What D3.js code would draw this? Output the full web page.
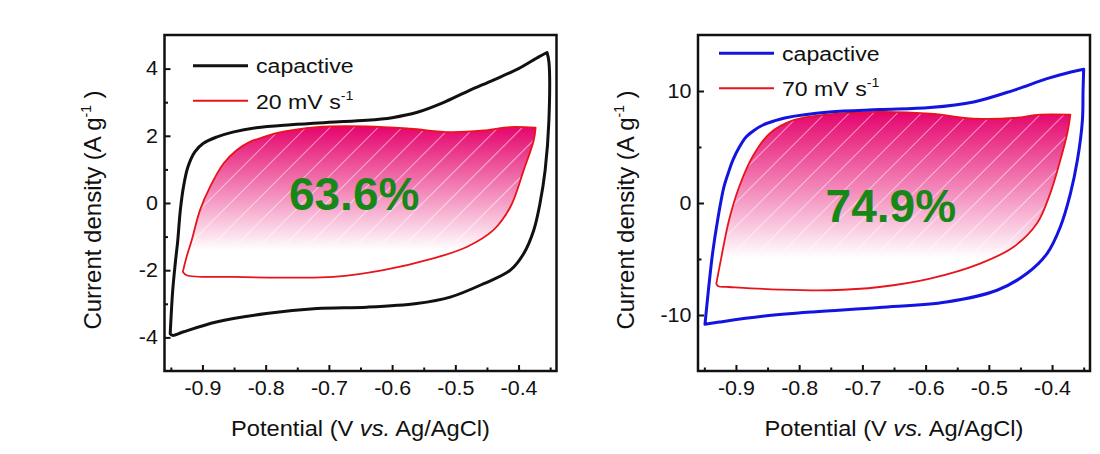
<!DOCTYPE html>
<html lang="en">
<head>
<meta charset="UTF-8">
<title>CV capacitive contribution</title>
<script src="https://d3js.org/d3.v7.min.js"></script>
<style>
  body { margin: 0; background: #fff; }
  text { font-family: "Liberation Sans", Arial, sans-serif; fill: #111; }
</style>
</head>
<body>
<div class="canvas"></div>
<script>
  // ---- data ----
  const potentialTicks = [-0.9, -0.8, -0.7, -0.6, -0.5, -0.4]
  const potentialMinor = [-0.95, -0.85, -0.75, -0.65, -0.55, -0.45, -0.35]
  const leftCurrentTicks = [-4, -2, 0, 2, 4]
  const leftCurrentMinor = [-3, -1, 1, 3]
  const rightCurrentTicks = [-10, 0, 10]
  const rightCurrentMinor = [-5, 5]

  // left panel: capacitive (black) and 20 mV/s (red), [V, A/g]
  const capLeftUpper = [[-0.951, -3.89], [-0.947, -2.6], [-0.943, -1.8], [-0.939, -1.11], [-0.935, -0.22],
    [-0.930, 0.48], [-0.923, 1.07], [-0.912, 1.52], [-0.899, 1.77], [-0.878, 1.96], [-0.852, 2.11],
    [-0.815, 2.24], [-0.760, 2.33], [-0.700, 2.40], [-0.640, 2.46], [-0.600, 2.54], [-0.560, 2.70],
    [-0.520, 2.98], [-0.480, 3.33], [-0.440, 3.66], [-0.400, 4.0], [-0.368, 4.35], [-0.355, 4.48]]
  const capLeftLower = [[-0.355, 4.48], [-0.352, 4.2], [-0.352, 2.46], [-0.358, 0.97], [-0.366, 0],
    [-0.376, -0.81], [-0.392, -1.51], [-0.413, -2.0], [-0.455, -2.4], [-0.508, -2.8], [-0.561, -2.99],
    [-0.640, -3.1], [-0.719, -3.14], [-0.799, -3.29], [-0.878, -3.54], [-0.931, -3.84], [-0.947, -3.94], [-0.951, -3.89]]
  const scan20Upper = [[-0.931, -2.05], [-0.925, -1.6], [-0.917, -1.11], [-0.904, -0.22], [-0.888, 0.48],
    [-0.867, 1.17], [-0.846, 1.57], [-0.825, 1.82], [-0.800, 1.98], [-0.783, 2.08], [-0.719, 2.26],
    [-0.640, 2.28], [-0.571, 2.21], [-0.508, 2.11], [-0.455, 2.16], [-0.413, 2.26], [-0.373, 2.24]]
  const scan20Lower = [[-0.373, 2.24], [-0.376, 1.87], [-0.392, 0.97], [-0.413, -0.12], [-0.440, -0.81],
    [-0.482, -1.31], [-0.535, -1.65], [-0.614, -2.0], [-0.693, -2.2], [-0.772, -2.22], [-0.852, -2.2],
    [-0.925, -2.15], [-0.931, -2.05]]

  // right panel: capacitive (blue) and 70 mV/s (red)
  const capRightUpper = [[-0.949, -10.83], [-0.943, -7.5], [-0.937, -4.52], [-0.929, -1.54], [-0.919, 1.43],
    [-0.912, 2.7], [-0.905, 3.81], [-0.895, 4.95], [-0.884, 5.89], [-0.871, 6.5], [-0.858, 6.94],
    [-0.840, 7.32], [-0.821, 7.62], [-0.752, 8.13], [-0.673, 8.34], [-0.593, 8.52], [-0.524, 9.02],
    [-0.461, 10.06], [-0.408, 11.1], [-0.370, 11.7], [-0.350, 11.95]]
  const capRightLower = [[-0.350, 11.95], [-0.351, 10], [-0.352, 7.38], [-0.360, 3.81], [-0.371, 0.84],
    [-0.387, -2.14], [-0.408, -4.52], [-0.440, -6.3], [-0.487, -7.79], [-0.567, -8.84], [-0.673, -9.34],
    [-0.778, -9.73], [-0.858, -10.12], [-0.926, -10.63], [-0.949, -10.83]]
  const scan70Upper = [[-0.931, -7.2], [-0.924, -5.12], [-0.911, -1.54], [-0.895, 1.43], [-0.874, 4.11],
    [-0.847, 6.2], [-0.810, 7.38], [-0.752, 7.92], [-0.673, 8.13], [-0.593, 7.98], [-0.524, 7.54],
    [-0.461, 7.59], [-0.419, 7.89], [-0.371, 7.89]]
  const scan70Lower = [[-0.371, 7.89], [-0.376, 6.2], [-0.387, 3.81], [-0.403, 0.84], [-0.424, -1.84],
    [-0.461, -3.93], [-0.514, -5.41], [-0.593, -6.75], [-0.673, -7.5], [-0.752, -7.79], [-0.831, -7.73],
    [-0.911, -7.5], [-0.928, -7.44], [-0.931, -7.2]]

  const ratios = ['63.6%', '74.9%']
  const ratioPos = [[-0.66, -0.2], [-0.655, -1.67]]   // [V, I] of label baseline centre
  const scanLabels = ['20 mV s', '70 mV s']

  const SX = 1.1 // reference text is a little wider than plain Arial

  const svg = d3.select('.canvas')
    .append('svg')
    .attr('width', 1100)
    .attr('height', 454)

  const defs = svg.append('defs')
  const grad = defs.append('linearGradient')
    .attr('id', 'pinkFade')
    .attr('x1', 0).attr('y1', 0).attr('x2', 0).attr('y2', 1)
  grad.append('stop').attr('offset', 0).attr('stop-color', '#e5046d')
  grad.append('stop').attr('offset', 0.82).attr('stop-color', '#ffffff')

  const hatch = defs.append('pattern')
    .attr('id', 'hatch')
    .attr('patternUnits', 'userSpaceOnUse')
    .attr('width', 17).attr('height', 17)
    .attr('patternTransform', 'rotate(45)')
  hatch.append('line')
    .attr('x1', 0).attr('y1', 0).attr('x2', 0).attr('y2', 17)
    .attr('stroke', '#fff').attr('stroke-width', 1.3).attr('stroke-opacity', 0.85)

  function wideText(g, x, y, str, size) {
    return g.append('text')
      .attr('transform', `translate(${x},${y}) scale(${SX},1)`)
      .attr('font-size', size)
      .text(str)
  }

  function drawPanel(p) {
    const x = d3.scaleLinear().domain([-0.96, -0.34]).range([p.left, p.left + 392])
    const y = d3.scaleLinear().domain(p.yDomain).range([371, 35])
    const g = svg.append('g')

    const line = d3.line()
      .x(d => x(d[0]))
      .y(d => y(d[1]))
      .curve(d3.curveCatmullRom.alpha(0.5))
    const loop = (up, low) => line(up) + line(low).replace(/^M/, 'L') + 'Z'

    const scanPath = loop(p.scanUpper, p.scanLower)
    g.append('path').attr('d', scanPath).attr('fill', 'url(#pinkFade)')
    g.append('path').attr('d', scanPath).attr('fill', 'url(#hatch)')
    g.append('path').attr('d', scanPath)
      .attr('fill', 'none').attr('stroke', '#e8141b').attr('stroke-width', 1.8)
      .attr('stroke-linejoin', 'round')

    g.append('path').attr('d', loop(p.capUpper, p.capLower))
      .attr('fill', 'none').attr('stroke', p.capColor).attr('stroke-width', 3)
      .attr('stroke-linejoin', 'round')

    // axes, ticks inside
    const ax = g.append('g').attr('transform', 'translate(0,371)')
      .call(d3.axisBottom(x).tickValues(potentialTicks).tickSize(-6).tickPadding(10).tickFormat(d => String(d)))
    ax.append('g')
      .call(d3.axisBottom(x).tickValues(potentialMinor).tickSize(-3.5).tickFormat(''))
    const ay = g.append('g').attr('transform', `translate(${p.left},0)`)
      .call(d3.axisLeft(y).tickValues(p.yTicks).tickSize(-6).tickPadding(6).tickFormat(d => String(d)))
    ay.append('g')
      .call(d3.axisLeft(y).tickValues(p.yMinor).tickSize(-3.5).tickFormat(''))
    g.selectAll('.domain').remove()
    g.selectAll('.tick line').attr('stroke', '#111').attr('stroke-width', 2)
    g.selectAll('.tick text')
      .attr('font-size', 19.5).attr('font-family', '"Liberation Sans", Arial, sans-serif').attr('fill', '#111')
    ax.selectAll('.tick text').attr('transform', `scale(${SX},1)`)
    ay.selectAll('.tick text').attr('transform', `scale(${SX},1)`)

    g.append('rect')
      .attr('x', p.left).attr('y', 35)
      .attr('width', 392).attr('height', 336)
      .attr('fill', 'none').attr('stroke', '#111').attr('stroke-width', 2.5)

    // axis titles
    const xt = wideText(g, 0, 436, '', 21.5).attr('text-anchor', 'middle')
      .attr('transform', `translate(${p.left + 196},436) scale(${SX},1)`)
    xt.append('tspan').text('Potential (V ')
    xt.append('tspan').attr('font-style', 'italic').text('vs.')
    xt.append('tspan').text(' Ag/AgCl)')

    const yt = g.append('text')
      .attr('transform', `translate(${p.left - 64},210) rotate(-90)`)
      .attr('text-anchor', 'middle')
      .attr('font-size', 24)
    yt.append('tspan').text('Current density (A g')
    yt.append('tspan').attr('font-size', 14).attr('dy', -10).text('-1')
    yt.append('tspan').attr('dy', 10).text(' )')

    // legend
    g.append('line')
      .attr('x1', p.left + p.legX).attr('x2', p.left + p.legX + 55)
      .attr('y1', p.legY).attr('y2', p.legY)
      .attr('stroke', p.capColor).attr('stroke-width', 3)
    wideText(g, p.left + p.legX + 63, p.legY + 7.5, 'capactive', 21)
    g.append('line')
      .attr('x1', p.left + p.legX).attr('x2', p.left + p.legX + 55)
      .attr('y1', p.legY + 35).attr('y2', p.legY + 35)
      .attr('stroke', '#e8141b').attr('stroke-width', 2)
    const st = wideText(g, p.left + p.legX + 63, p.legY + 43, p.scanLabel, 21)
    st.append('tspan').attr('font-size', 13).attr('dy', -9).text('-1')

    g.append('text')
      .attr('x', x(p.ratioAt[0])).attr('y', y(p.ratioAt[1]))
      .attr('text-anchor', 'middle')
      .attr('font-size', 46).attr('font-weight', 'bold')
      .style('fill', '#178717')
      .text(p.ratio)
  }

  drawPanel({
    left: 164.5, yDomain: [-5, 5], yTicks: leftCurrentTicks, yMinor: leftCurrentMinor,
    capUpper: capLeftUpper, capLower: capLeftLower, scanUpper: scan20Upper, scanLower: scan20Lower,
    capColor: '#111', legX: 28.5, legY: 65.7, scanLabel: scanLabels[0],
    ratio: ratios[0], ratioAt: ratioPos[0]
  })
  drawPanel({
    left: 698, yDomain: [-15, 15], yTicks: rightCurrentTicks, yMinor: rightCurrentMinor,
    capUpper: capRightUpper, capLower: capRightLower, scanUpper: scan70Upper, scanLower: scan70Lower,
    capColor: '#1414e0', legX: 21, legY: 53.3, scanLabel: scanLabels[1],
    ratio: ratios[1], ratioAt: ratioPos[1]
  })
</script>
</body>
</html>
